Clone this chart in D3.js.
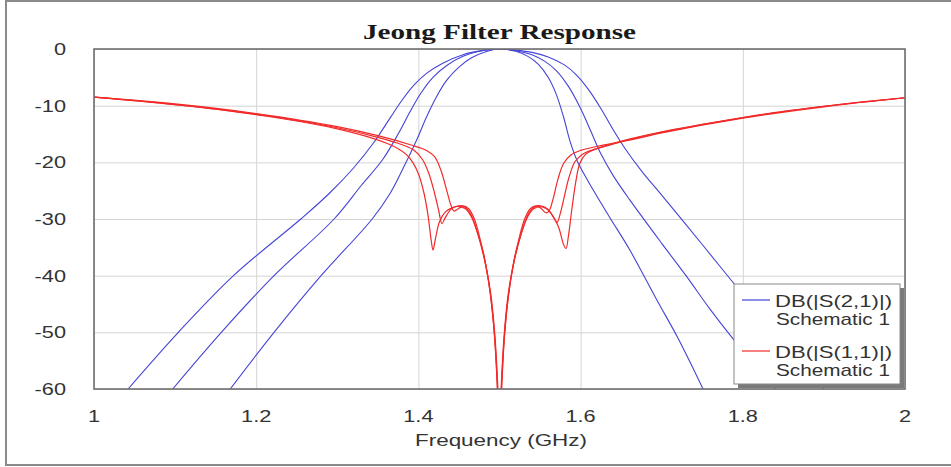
<!DOCTYPE html>
<html>
<head>
<meta charset="utf-8">
<script src="https://cdn.jsdelivr.net/npm/d3@7"></script>
<style>
  body { margin: 0; background: #fff; }
  svg { display: block; }
</style>
</head>
<body>
<div id="chart"></div>
<script>
// tick values
const freqTicks = [1, 1.2, 1.4, 1.6, 1.8, 2];
const dbTicks = [0, -10, -20, -30, -40, -50, -60];

// DB(|S(2,1)|), three sweeps [GHz, dB]
const s21Wide = [[1.042,-60],[1.104,-50],[1.172,-40],[1.255,-30],[1.29,-25.5],[1.32,-21],[1.345,-16.5],[1.365,-12.2],[1.38,-9],[1.395,-6.3],[1.41,-4.3],[1.43,-2.5],[1.455,-1],[1.48,-0.25],[1.5,0],
  [1.52,-0.2],[1.54,-0.6],[1.56,-1.4],[1.58,-2.8],[1.595,-4.6],[1.61,-7.2],[1.625,-10.5],[1.64,-14.2],[1.655,-17.6],[1.675,-21.5],[1.7,-25.8],[1.75,-34.5],[1.784,-40.5],[1.82,-46.8],[1.86,-53.5],[1.9,-60]];
const s21Mid = [[1.097,-60],[1.157,-50],[1.222,-40],[1.296,-30],[1.33,-24],[1.356,-19.5],[1.375,-15],[1.39,-11],[1.403,-7.8],[1.418,-5],[1.435,-2.9],[1.455,-1.3],[1.475,-0.4],[1.5,0],
  [1.52,-0.3],[1.54,-1],[1.555,-2.1],[1.57,-3.8],[1.585,-6.6],[1.6,-10.5],[1.612,-14.3],[1.625,-18.5],[1.64,-22.3],[1.66,-26.5],[1.7,-34.3],[1.73,-40],[1.76,-46],[1.79,-51.5],[1.84,-60]];
const s21Narrow = [[1.168,-60],[1.222,-50],[1.28,-40],[1.343,-30],[1.365,-25.5],[1.383,-20.5],[1.398,-16],[1.41,-12],[1.422,-8.5],[1.435,-5.5],[1.45,-3.2],[1.465,-1.6],[1.485,-0.4],[1.5,0],
  [1.52,-0.4],[1.535,-1.3],[1.548,-2.7],[1.56,-5],[1.57,-8],[1.579,-12],[1.587,-16.3],[1.596,-19.8],[1.61,-23.5],[1.635,-29.5],[1.66,-35.3],[1.694,-44.3],[1.72,-51],[1.751,-60]];

// DB(|S(1,1)|), three sweeps [GHz, dB]
const s11Wide = [[1.0,-8.5],[1.05,-9.1],[1.1,-9.8],[1.15,-10.6],[1.2,-11.6],[1.25,-12.7],[1.3,-14.1],[1.34,-15.6],[1.36,-16.6],[1.375,-17.6],[1.385,-18.6],[1.393,-20],[1.4,-22],[1.407,-25.5],[1.412,-29.5],[1.416,-34],[1.418,-35.5],[1.421,-33.5],[1.426,-30.5],[1.433,-28.8],[1.442,-28.0],[1.45,-27.8],[1.458,-28.2],[1.466,-29.8],[1.474,-33],[1.482,-37.5],[1.489,-43],[1.494,-50],[1.498,-60],[1.5,-70],
  [1.502,-60],[1.506,-50],[1.511,-43],[1.518,-37.5],[1.526,-33],[1.534,-29.8],[1.542,-28.2],[1.55,-27.8],[1.558,-28.2],[1.566,-29.5],[1.573,-31.5],[1.579,-34.5],[1.582,-35.2],[1.585,-33],[1.589,-28.5],[1.594,-23.5],[1.599,-20.2],[1.606,-18.6],[1.616,-17.8],[1.63,-17.1],[1.66,-15.9],[1.7,-14.6],[1.75,-13.3],[1.8,-12.1],[1.85,-11],[1.9,-10.1],[1.95,-9.3],[2.0,-8.6]];
const s11Mid = [[1.0,-8.5],[1.1,-9.8],[1.2,-11.5],[1.3,-13.9],[1.35,-15.6],[1.38,-16.9],[1.395,-17.9],[1.405,-19.5],[1.413,-22],[1.42,-25.5],[1.425,-28.5],[1.429,-30.8],[1.433,-29.8],[1.44,-28.3],[1.448,-27.7],[1.456,-27.8],[1.464,-29],[1.472,-32],[1.48,-36],[1.487,-41.5],[1.493,-49],[1.497,-58],[1.5,-70],
  [1.503,-58],[1.507,-49],[1.513,-41.5],[1.52,-36],[1.528,-32],[1.536,-29],[1.544,-27.8],[1.552,-27.7],[1.56,-28.3],[1.566,-29.6],[1.571,-30.6],[1.575,-29],[1.58,-26],[1.586,-22.5],[1.593,-19.9],[1.602,-18.6],[1.615,-17.8],[1.63,-17.2],[1.66,-16],[1.7,-14.7],[1.8,-12.1],[1.9,-10.1],[2.0,-8.6]];
const s11Narrow = [[1.0,-8.5],[1.1,-9.7],[1.2,-11.4],[1.3,-13.7],[1.35,-15.3],[1.39,-16.9],[1.41,-17.9],[1.42,-19],[1.428,-21.5],[1.435,-25],[1.44,-27.5],[1.444,-28.6],[1.449,-28.2],[1.455,-27.7],[1.462,-28.2],[1.469,-30],[1.476,-33.5],[1.483,-38],[1.489,-43.5],[1.494,-51],[1.498,-62],[1.5,-70],
  [1.502,-62],[1.506,-51],[1.511,-43.5],[1.517,-38],[1.524,-33.5],[1.531,-30],[1.538,-28.2],[1.545,-27.7],[1.551,-28.1],[1.557,-28.9],[1.561,-28.6],[1.566,-26.5],[1.572,-23],[1.579,-20.2],[1.588,-18.7],[1.6,-17.9],[1.62,-17.2],[1.66,-16.1],[1.7,-14.8],[1.8,-12.2],[1.9,-10.2],[2.0,-8.6]];

const legendLabels = [["DB(|S(2,1)|)", "Schematic 1"], ["DB(|S(1,1)|)", "Schematic 1"]];

// dimensions
const W = 951, H = 467;
const plot = { left: 94, right: 905, top: 49, bottom: 389 };
const blue = "#4444d8", red = "#f22a2a";
const stretch = 1.36; // text in the picture is wider than it is tall

const x = d3.scaleLinear().domain([1, 2]).range([plot.left, plot.right]);
const y = d3.scaleLinear().domain([-60, 0]).range([plot.bottom, plot.top]);

const svg = d3.select("#chart").append("svg")
  .attr("width", W)
  .attr("height", H);

// outer frame
svg.append("rect")
  .attr("x", 6).attr("y", 1)
  .attr("width", W + 10).attr("height", 464)
  .attr("fill", "#fff")
  .attr("stroke", "#8a8a8a")
  .attr("stroke-width", 2);

// gridlines
svg.append("g")
  .attr("transform", "translate(0," + plot.bottom + ")")
  .call(d3.axisBottom(x).tickValues(freqTicks).tickSize(-(plot.bottom - plot.top)).tickFormat(""))
  .call(g => g.select(".domain").remove())
  .selectAll("line").attr("stroke", "#d4d4d4");

svg.append("g")
  .attr("transform", "translate(" + plot.left + ",0)")
  .call(d3.axisLeft(y).tickValues(dbTicks).tickSize(-(plot.right - plot.left)).tickFormat(""))
  .call(g => g.select(".domain").remove())
  .selectAll("line").attr("stroke", "#d4d4d4");

// tick labels
svg.append("g").selectAll("text")
  .data(dbTicks)
  .join("text")
  .attr("transform", d => "translate(66," + (y(d) + 6) + ") scale(" + stretch + ",1)")
  .attr("text-anchor", "end")
  .style("font-family", "Liberation Sans, Arial, sans-serif")
  .style("font-size", "16px")
  .style("fill", "#333")
  .text(d => d);

svg.append("g").selectAll("text")
  .data(freqTicks)
  .join("text")
  .attr("transform", d => "translate(" + x(d) + ",422) scale(" + stretch + ",1)")
  .attr("text-anchor", "middle")
  .style("font-family", "Liberation Sans, Arial, sans-serif")
  .style("font-size", "16px")
  .style("fill", "#333")
  .text(d => d);

// clip for the traces
svg.append("clipPath").attr("id", "clip")
  .append("rect")
  .attr("x", plot.left).attr("y", plot.top)
  .attr("width", plot.right - plot.left)
  .attr("height", plot.bottom - plot.top);

const line = d3.line()
  .x(d => x(d[0]))
  .y(d => y(d[1]))
  .curve(d3.curveCatmullRom.alpha(0.5));

const traces = svg.append("g").attr("clip-path", "url(#clip)");

[s21Wide, s21Mid, s21Narrow].forEach(s => {
  traces.append("path")
    .datum(s)
    .attr("fill", "none")
    .attr("stroke", blue)
    .attr("stroke-width", 1.1)
    .attr("d", line);
});

[s11Wide, s11Mid, s11Narrow].forEach(s => {
  traces.append("path")
    .datum(s)
    .attr("fill", "none")
    .attr("stroke", red)
    .attr("stroke-width", 1.2)
    .attr("d", line);
});

// plot border
svg.append("rect")
  .attr("x", plot.left).attr("y", plot.top)
  .attr("width", plot.right - plot.left)
  .attr("height", plot.bottom - plot.top)
  .attr("fill", "none")
  .attr("stroke", "#6f6f6f")
  .attr("stroke-width", 1.6);

// title
svg.append("text")
  .attr("x", 363).attr("y", 39)
  .attr("textLength", 273)
  .attr("lengthAdjust", "spacingAndGlyphs")
  .style("font-family", "Liberation Serif, Times New Roman, serif")
  .style("font-weight", "bold")
  .style("font-size", "21px")
  .style("fill", "#1a1a1a")
  .text("Jeong Filter Response");

// x axis title
svg.append("text")
  .attr("x", 415).attr("y", 446)
  .attr("textLength", 172)
  .attr("lengthAdjust", "spacingAndGlyphs")
  .style("font-family", "Liberation Sans, Arial, sans-serif")
  .style("font-size", "17px")
  .style("fill", "#333")
  .text("Frequency (GHz)");

// legend
const lg = svg.append("g");
lg.append("rect")
  .attr("x", 738).attr("y", 288)
  .attr("width", 166).attr("height", 100)
  .attr("fill", "#7a7a7a");
lg.append("rect")
  .attr("x", 734).attr("y", 284)
  .attr("width", 166).attr("height", 100)
  .attr("fill", "#fff")
  .attr("stroke", "#888")
  .attr("stroke-width", 1);

[blue, red].forEach((c, i) => {
  const y0 = 300 + i * 51;
  lg.append("line")
    .attr("x1", 742).attr("x2", 770)
    .attr("y1", y0).attr("y2", y0)
    .attr("stroke", c)
    .attr("stroke-width", 1.2);
  lg.append("text")
    .attr("x", 775).attr("y", y0 + 7)
    .attr("textLength", 117)
    .attr("lengthAdjust", "spacingAndGlyphs")
    .style("font-family", "Liberation Sans, Arial, sans-serif")
    .style("font-size", "17px")
    .style("fill", "#333")
    .text(legendLabels[i][0]);
  lg.append("text")
    .attr("x", 776).attr("y", y0 + 25)
    .attr("textLength", 114)
    .attr("lengthAdjust", "spacingAndGlyphs")
    .style("font-family", "Liberation Sans, Arial, sans-serif")
    .style("font-size", "17px")
    .style("fill", "#333")
    .text(legendLabels[i][1]);
});
</script>
</body>
</html>
